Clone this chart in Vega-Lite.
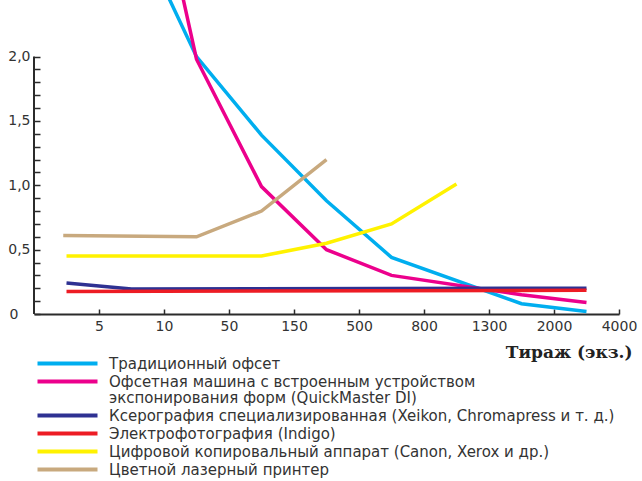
{
  "$schema": "https://vega.github.io/schema/vega-lite/v6.json",
  "width": 585,
  "height": 314,
  "autosize": {"type": "none"},
  "padding": {"left": 34, "top": 0, "right": 23, "bottom": 167},
  "background": "white",
  "config": {"view": {"stroke": null}, "font": "DejaVu Sans"},
  "encoding": {
    "x": {
      "field": "pos", "type": "quantitative",
      "scale": {"domain": [0, 9]},
      "axis": {
        "values": [1, 2, 3, 4, 5, 6, 7, 8, 9],
        "labelExpr": "['','5','10','50','150','500','800','1300','2000','4000'][datum.value]",
        "grid": false,
        "domain": true, "domainColor": "#2b2b2b", "domainWidth": 2,
        "tickSize": -5, "tickColor": "#2b2b2b", "tickWidth": 1.5,
        "labelFontSize": 14, "labelColor": "#333333", "labelPadding": 10,
        "labelFlush": false, "labelOverlap": false, "labelBound": false,
        "title": "Тираж (экз.)",
        "titleFont": "DejaVu Serif", "titleFontWeight": "bold", "titleFontSize": 17, "titleColor": "#222222",
        "titleAnchor": "end", "titleAlign": "right", "titleBaseline": "alphabetic",
        "titleX": 598, "titleY": 43
      }
    },
    "y": {
      "field": "cost", "type": "quantitative",
      "scale": {"domain": [0, 2.44]},
      "axis": {
        "values": [0, 0.1, 0.2, 0.3, 0.4, 0.5, 0.6, 0.7, 0.8, 0.9, 1.0, 1.1, 1.2, 1.3, 1.4, 1.5, 1.6, 1.7, 1.8, 1.9, 2.0],
        "labelExpr": "round(datum.value*10)%5==0 ? (datum.value==0 ? '0' : replace(format(datum.value,'.1f'),'.',',')) : ''",
        "grid": false, "domain": false,
        "tickSize": -6, "tickColor": "#2b2b2b", "tickWidth": 1.5,
        "labelFontSize": 14, "labelColor": "#333333",
        "labelPadding": {"condition": {"test": "datum.value == 0", "value": 22}, "value": 10},
        "labelOverlap": false, "labelBound": false, "labelFlush": false,
        "title": null
      }
    }
  },
  "layer": [
    {
      "data": {"values": [{"pos": 0, "cost": 0, "cost2": 2.0}]},
      "mark": {"type": "rule", "color": "#2b2b2b", "strokeWidth": 2},
      "encoding": {"y2": {"field": "cost2"}}
    },
    {
      "data": {"values": [
        {"series": "Традиционный офсет", "pos": 2.07, "cost": 2.46},
        {"series": "Традиционный офсет", "pos": 2.5, "cost": 2.0},
        {"series": "Традиционный офсет", "pos": 3.5, "cost": 1.39},
        {"series": "Традиционный офсет", "pos": 4.5, "cost": 0.88},
        {"series": "Традиционный офсет", "pos": 5.5, "cost": 0.44},
        {"series": "Традиционный офсет", "pos": 7.5, "cost": 0.08},
        {"series": "Традиционный офсет", "pos": 8.5, "cost": 0.02},
        {"series": "Офсетная машина с встроенным устройством\nэкспонирования форм (QuickMaster DI)", "pos": 2.29, "cost": 2.46},
        {"series": "Офсетная машина с встроенным устройством\nэкспонирования форм (QuickMaster DI)", "pos": 2.5, "cost": 1.98},
        {"series": "Офсетная машина с встроенным устройством\nэкспонирования форм (QuickMaster DI)", "pos": 3.5, "cost": 0.99},
        {"series": "Офсетная машина с встроенным устройством\nэкспонирования форм (QuickMaster DI)", "pos": 4.5, "cost": 0.5},
        {"series": "Офсетная машина с встроенным устройством\nэкспонирования форм (QuickMaster DI)", "pos": 5.5, "cost": 0.3},
        {"series": "Офсетная машина с встроенным устройством\nэкспонирования форм (QuickMaster DI)", "pos": 7.5, "cost": 0.15},
        {"series": "Офсетная машина с встроенным устройством\nэкспонирования форм (QuickMaster DI)", "pos": 8.5, "cost": 0.09},
        {"series": "Ксерография специализированная (Xeikon, Chromapress и т. д.)", "pos": 0.5, "cost": 0.24},
        {"series": "Ксерография специализированная (Xeikon, Chromapress и т. д.)", "pos": 1.5, "cost": 0.195},
        {"series": "Ксерография специализированная (Xeikon, Chromapress и т. д.)", "pos": 8.5, "cost": 0.2},
        {"series": "Электрофотография (Indigo)", "pos": 0.5, "cost": 0.175},
        {"series": "Электрофотография (Indigo)", "pos": 8.5, "cost": 0.185},
        {"series": "Цифровой копировальный аппарат (Canon, Xerox и др.)", "pos": 0.5, "cost": 0.45},
        {"series": "Цифровой копировальный аппарат (Canon, Xerox и др.)", "pos": 3.5, "cost": 0.45},
        {"series": "Цифровой копировальный аппарат (Canon, Xerox и др.)", "pos": 4.5, "cost": 0.55},
        {"series": "Цифровой копировальный аппарат (Canon, Xerox и др.)", "pos": 5.5, "cost": 0.7},
        {"series": "Цифровой копировальный аппарат (Canon, Xerox и др.)", "pos": 6.5, "cost": 1.01},
        {"series": "Цветной лазерный принтер", "pos": 0.45, "cost": 0.61},
        {"series": "Цветной лазерный принтер", "pos": 2.5, "cost": 0.6},
        {"series": "Цветной лазерный принтер", "pos": 3.5, "cost": 0.8},
        {"series": "Цветной лазерный принтер", "pos": 4.5, "cost": 1.2}
      ]},
      "mark": {"type": "line", "clip": true, "strokeWidth": 3.5},
      "encoding": {
        "color": {
          "field": "series", "type": "nominal",
          "scale": {
            "domain": [
              "Традиционный офсет",
              "Офсетная машина с встроенным устройством\nэкспонирования форм (QuickMaster DI)",
              "Ксерография специализированная (Xeikon, Chromapress и т. д.)",
              "Электрофотография (Indigo)",
              "Цифровой копировальный аппарат (Canon, Xerox и др.)",
              "Цветной лазерный принтер"
            ],
            "range": ["#00aeef", "#ec008c", "#2e3192", "#ed1c24", "#fff200", "#c8a97e"]
          },
          "legend": {
            "title": null, "orient": "none", "legendX": 4, "legendY": 354,
            "padding": 0,
            "symbolType": "M-4,0H4", "symbolSize": 225, "symbolStrokeWidth": 4, "symbolOffset": 20,
            "labelFontSize": 15, "labelColor": "#333333", "labelLimit": 0, "labelOffset": 32,
            "labelBaseline": "alphabetic",
            "labelExpr": "split(datum.label, '\\n')",
            "rowPadding": 0,
            "encode": {"labels": {"update": {"dy": {"value": 5}, "lineHeight": {"value": 16}}}}
          }
        }
      }
    }
  ]
}
